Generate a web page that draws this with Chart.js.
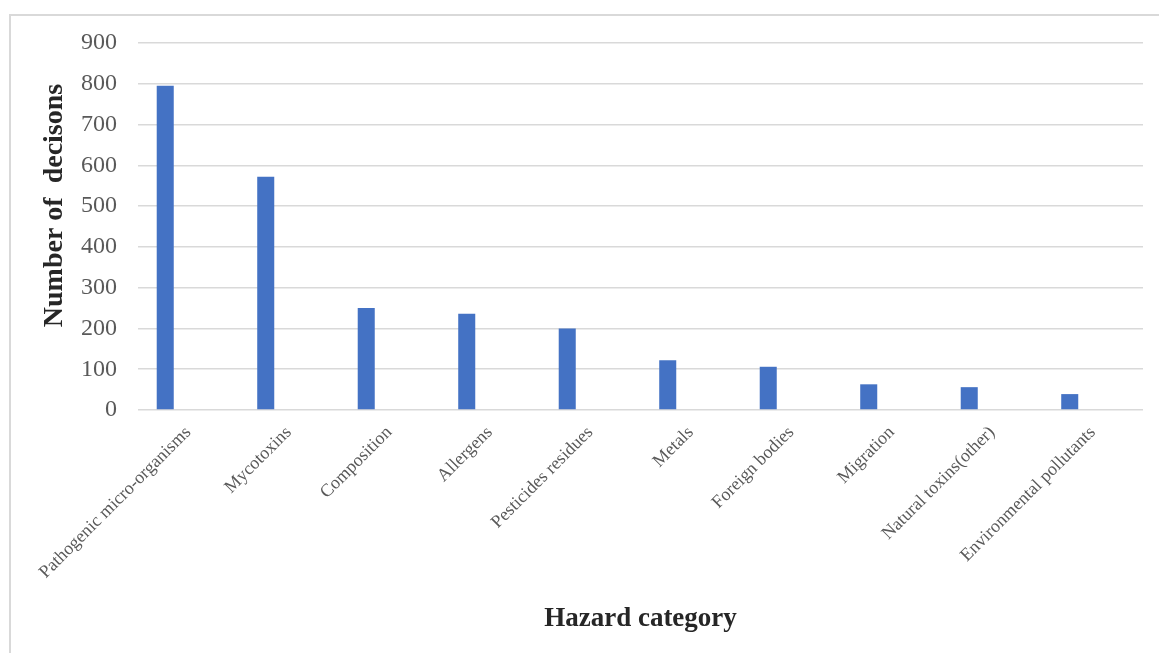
<!DOCTYPE html>
<html><head><meta charset="utf-8">
<script src="https://cdn.jsdelivr.net/npm/chart.js@4/dist/chart.umd.min.js"></script>
<style>
html,body{margin:0;padding:0;background:#fff;}
#wrap{position:relative;width:1159px;height:653px;overflow:hidden;background:#fff;}
#frame{position:absolute;left:9px;top:14px;width:1200px;height:700px;border-left:2px solid #d9d9d9;border-top:2px solid #d9d9d9;}
canvas{position:absolute;left:0;top:0;}
</style></head><body>
<div id="wrap"><div id="frame"></div><canvas id="c" width="1159" height="653"></canvas></div>
<script>
const categories = ["Pathogenic micro-organisms","Mycotoxins","Composition","Allergens","Pesticides residues","Metals","Foreign bodies","Migration","Natural toxins(other)","Environmental pollutants"];
const decisions = [795, 572, 250, 236, 200, 122, 106, 63, 56, 39];
const yTickValues = [0, 100, 200, 300, 400, 500, 600, 700, 800, 900];
const yTitle = "Number of  decisons";
const xTitle = "Hazard category";

const serif = "'Liberation Serif', 'Times New Roman', serif";
// leading spaces lift the rotated title slightly above the axis centre, as in the original
const yTitleShifted = "\u00a0\u00a0\u00a0\u00a0\u00a0\u00a0" + yTitle;

new Chart(document.getElementById('c'), {
  type: 'bar',
  data: {
    labels: categories,
    datasets: [
      { label: 'Decisions', data: decisions, backgroundColor: '#4472C4', borderWidth: 0,
        categoryPercentage: 0.916, barPercentage: 0.37 },
      { label: '', data: [], backgroundColor: 'rgba(0,0,0,0)',
        categoryPercentage: 0.916, barPercentage: 0.37 }
    ]
  },
  options: {
    responsive: false,
    devicePixelRatio: 1,
    animation: false,
    layout: { padding: { top: 43, left: 0, right: 16, bottom: 0 } },
    plugins: { legend: { display: false }, tooltip: { enabled: false } },
    scales: {
      x: {
        grid: { display: false },
        border: { display: false },
        ticks: { color: '#595959', font: { family: serif, size: 18 }, minRotation: 45, maxRotation: 45, padding: 4, autoSkip: false },
        title: { display: true, text: xTitle, color: '#262626', font: { family: serif, size: 27, weight: 'bold' }, padding: { top: 18, bottom: 18 } },
        afterFit: s => { s.height = 243; }
      },
      y: {
        min: 0, max: 900,
        afterBuildTicks: s => { s.ticks = yTickValues.map(v => ({ value: v })); },
        grid: { color: '#d9d9d9', lineWidth: 1.5, drawTicks: false },
        border: { display: false },
        ticks: { color: '#595959', font: { family: serif, size: 24 }, padding: 21 },
        title: { display: true, text: yTitleShifted, color: '#262626', font: { family: serif, size: 28, weight: 'bold' }, padding: { top: 38, bottom: 38 } },
        afterFit: s => { s.width = 138; }
      }
    }
  }
});
</script>
</body></html>
